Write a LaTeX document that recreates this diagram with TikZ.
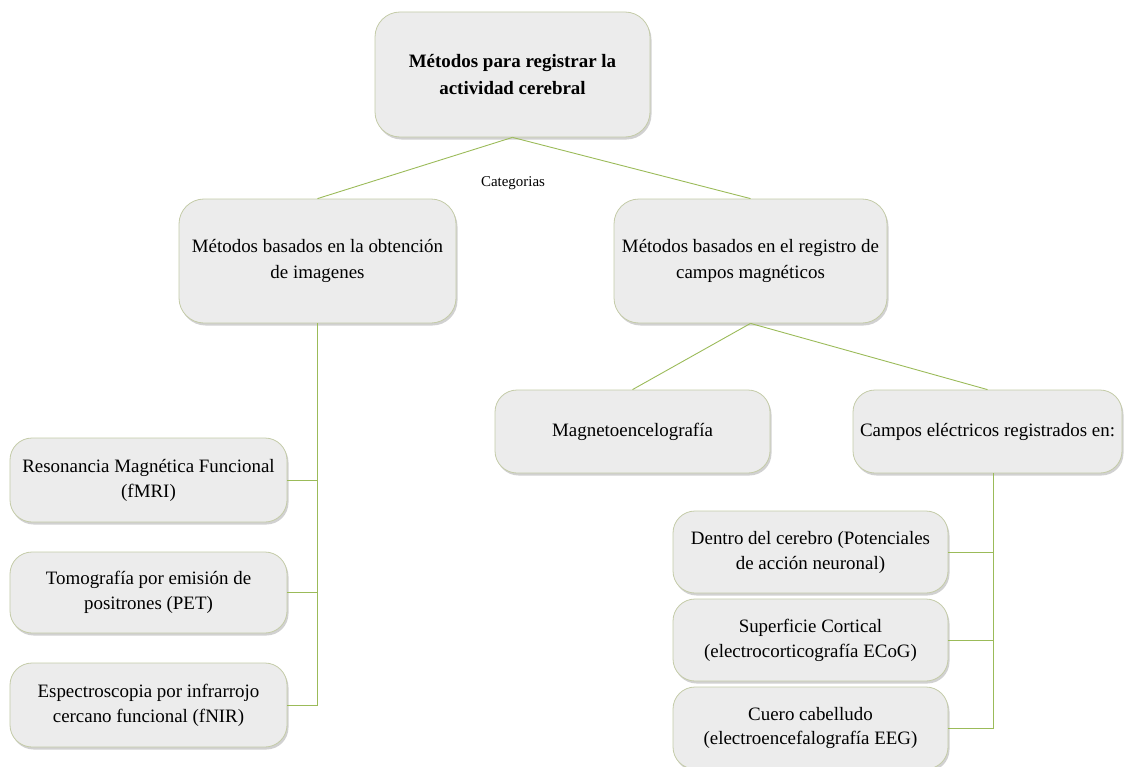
\documentclass[tikz,border=0pt]{standalone}
\usepackage{fontspec}
\setmainfont{Liberation Serif}
\usetikzlibrary{shadows}
\definecolor{boxfill}{RGB}{236,236,236}
\definecolor{boxdraw}{RGB}{196,203,168}
\definecolor{linkcol}{RGB}{155,187,89}
\begin{document}
\begin{tikzpicture}[x=1bp,y=-1bp,
  mbox/.style={draw=boxdraw, line width=0.8bp, fill=boxfill, rounded corners=22bp,
    align=center, inner sep=2bp, font=\fontsize{19}{25}\selectfont,
    drop shadow={shadow xshift=1.5bp, shadow yshift=-2.5bp, opacity=0.3, fill=black!60}},
  link/.style={draw=linkcol, line width=0.9bp}]
\useasboundingbox (0,0) rectangle (1127,767);
\begin{scope}
\clip (0,0) rectangle (1127,767);
\node[mbox, minimum width=275bp, minimum height=125bp, rounded corners=25bp, font=\fontsize{19}{27}\selectfont\bfseries] (top) at (512.5,74.5) {Métodos para registrar la\\actividad cerebral};
\node[mbox, minimum width=277bp, minimum height=124bp, rounded corners=25bp, font=\fontsize{19}{27}\selectfont] (lm) at (317.5,261) {Métodos basados en la obtención\\de imagenes};
\node[mbox, minimum width=273bp, minimum height=124bp, rounded corners=25bp, font=\fontsize{19}{27}\selectfont] (rm) at (750.5,261) {Métodos basados en el registro de\\campos magnéticos};
\node[mbox, minimum width=275bp, minimum height=83bp] (mag) at (632.5,431.5) {Magnetoencelografía};
\node[mbox, minimum width=269bp, minimum height=83bp] (cam) at (987.5,431.5) {Campos eléctricos registrados en:};
\node[mbox, minimum width=277bp, minimum height=84bp] (res) at (148.5,480) {Resonancia Magnética Funcional\\(fMRI)};
\node[mbox, minimum width=277bp, minimum height=81bp] (tom) at (148.5,592.5) {Tomografía por emisión de\\positrones (PET)};
\node[mbox, minimum width=277bp, minimum height=84bp] (esp) at (148.5,705) {Espectroscopia por infrarrojo\\cercano funcional (fNIR)};
\node[mbox, minimum width=275bp, minimum height=82bp] (den) at (810.5,552) {Dentro del cerebro (Potenciales\\de acción neuronal)};
\node[mbox, minimum width=275bp, minimum height=82bp] (sup) at (810.5,640) {Superficie Cortical\\(electrocorticografía ECoG)};
\node[mbox, minimum width=275bp, minimum height=82bp] (cue) at (810.5,728) {Cuero cabelludo\\(electroencefalografía EEG)};
\end{scope}
\node[font=\fontsize{15}{17}\selectfont] (cat) at (513,183) {Categorias};
\coordinate (camdrop) at ([xshift=5.5bp]cam.south);
\draw[link] (top.south) -- (lm.north);
\draw[link] (top.south) -- (rm.north);
\draw[link] (rm.south) -- (mag.north);
\draw[link] (rm.south) -- (cam.north);
\draw[link] (lm.south) -- (lm.south |- esp.east) -- (esp.east);
\draw[link] (res.east) -- (res.east -| lm.south);
\draw[link] (tom.east) -- (tom.east -| lm.south);
\draw[link] (camdrop) -- (camdrop |- cue.east) -- (cue.east);
\draw[link] (den.east) -- (den.east -| camdrop);
\draw[link] (sup.east) -- (sup.east -| camdrop);
\end{tikzpicture}
\end{document}
